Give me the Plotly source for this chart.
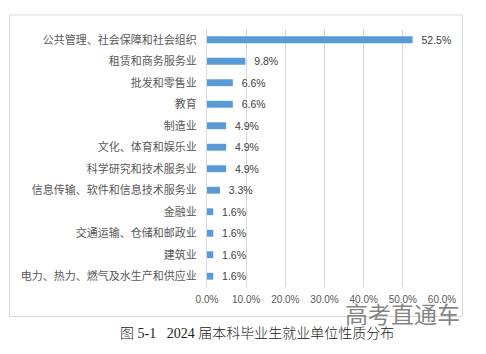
import plotly.graph_objects as go

categories = [
    "公共管理、社会保障和社会组织",
    "租赁和商务服务业",
    "批发和零售业",
    "教育",
    "制造业",
    "文化、体育和娱乐业",
    "科学研究和技术服务业",
    "信息传输、软件和信息技术服务业",
    "金融业",
    "交通运输、仓储和邮政业",
    "建筑业",
    "电力、热力、燃气及水生产和供应业",
]
values = [52.5, 9.8, 6.6, 6.6, 4.9, 4.9, 4.9, 3.3, 1.6, 1.6, 1.6, 1.6]
x_ticks = [0, 10, 20, 30, 40, 50, 60]
x_tick_labels = ["0.0%", "10.0%", "20.0%", "30.0%", "40.0%", "50.0%", "60.0%"]
caption = "图 5-1   2024 届本科毕业生就业单位性质分布"
watermark = "高考直通车"

W, H = 486, 354
L, R, T, B = 207, 44, 29, 67
pw, ph = W - L - R, H - T - B

def px(x):
    return (x - L) / pw

def py(y):
    return (H - B - y) / ph

fig = go.Figure(
    go.Bar(
        x=values,
        y=categories,
        orientation="h",
        marker=dict(color="#5B9BD5", line=dict(width=0)),
        width=0.32,
        text=["\u00a0\u00a0" + f"{v:.1f}%" for v in values],
        textposition="outside",
        constraintext="none",
        textfont=dict(family="Liberation Sans, Noto Sans CJK SC", size=10.5, color="#404040"),
        cliponaxis=False,
    )
)

fig.update_layout(
    width=W,
    height=H,
    margin=dict(l=L, r=R, t=T, b=B),
    paper_bgcolor="white",
    plot_bgcolor="white",
    showlegend=False,
    font=dict(family="Noto Sans CJK SC", color="#595959"),
    xaxis=dict(
        range=[0, 60],
        tickvals=x_ticks,
        ticktext=x_tick_labels,
        showgrid=True,
        gridcolor="#d9d9d9",
        gridwidth=1,
        zeroline=False,
        showline=False,
        tickfont=dict(family="Liberation Sans, Noto Sans CJK SC", size=10, color="#595959"),
        ticks="",
        ticklabelstandoff=5,
        fixedrange=True,
    ),
    yaxis=dict(
        autorange="reversed",
        showgrid=False,
        showline=True,
        linecolor="#d9d9d9",
        linewidth=1,
        ticks="",
        tickfont=dict(family="Noto Sans CJK SC", size=11, color="#595959"),
        ticklabelstandoff=7,
        fixedrange=True,
    ),
    shapes=[
        dict(
            type="rect",
            xref="paper",
            yref="paper",
            x0=px(9.5),
            x1=px(462.5),
            y0=py(316.5),
            y1=py(15),
            line=dict(color="#d9d9d9", width=1),
            fillcolor="rgba(0,0,0,0)",
            layer="below",
        )
    ],
    annotations=[
        dict(
            text=caption,
            xref="paper",
            yref="paper",
            x=px(257),
            y=py(333),
            xanchor="center",
            yanchor="middle",
            showarrow=False,
            font=dict(family="Liberation Serif, Noto Sans CJK SC", size=14, weight=300, color="#222222"),
        ),
        dict(
            text=watermark,
            xref="paper",
            yref="paper",
            x=px(402),
            y=py(313),
            xanchor="center",
            yanchor="middle",
            showarrow=False,
            font=dict(family="Noto Sans CJK SC", size=23, color="rgba(110,110,110,0.85)"),
        ),
    ],
)

fig.write_html("out.html")
